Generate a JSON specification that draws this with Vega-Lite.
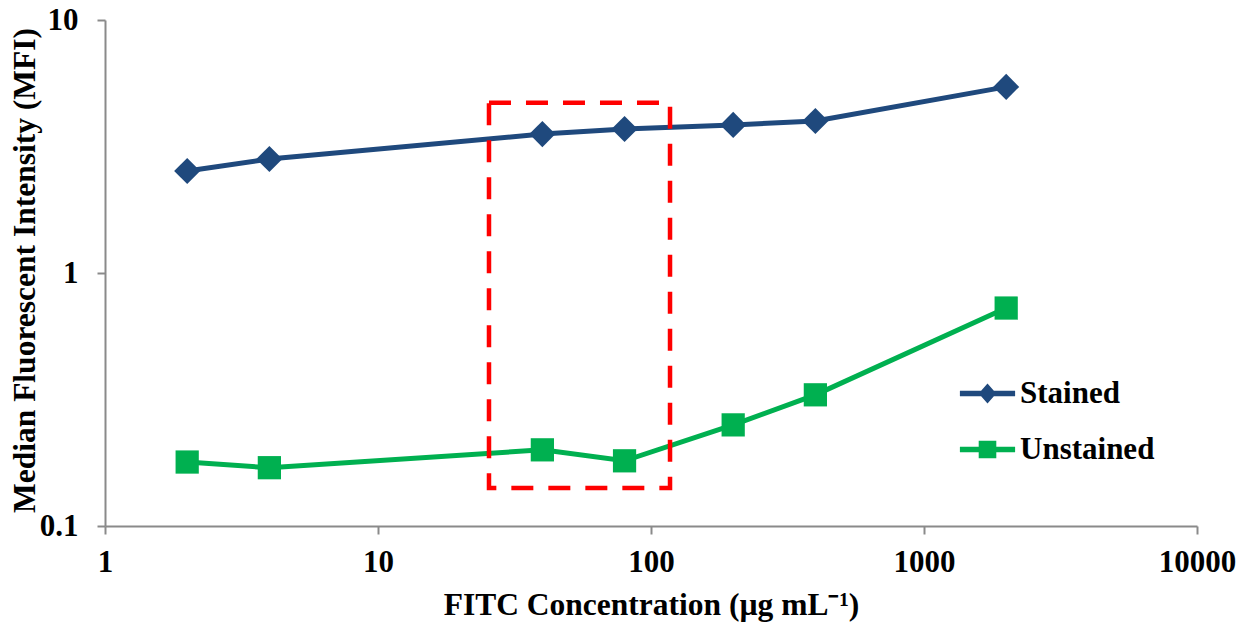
{
  "$schema": "https://vega.github.io/schema/vega-lite/v6.json",
  "width": 1092,
  "height": 506,
  "autosize": {"type": "none"},
  "padding": {"left": 105, "top": 20, "right": 49, "bottom": 102},
  "background": "white",
  "config": {
    "view": {"stroke": null},
    "font": "Liberation Serif",
    "axis": {
      "domainColor": "#8a8a8a",
      "domainWidth": 2,
      "tickColor": "#8a8a8a",
      "tickWidth": 2,
      "tickSize": 8,
      "grid": false,
      "labelFlush": false,
      "labelOverlap": false,
      "labelFont": "Liberation Serif",
      "labelFontWeight": "bold",
      "labelFontSize": 31,
      "labelColor": "#000000",
      "titleFont": "Liberation Serif",
      "titleFontWeight": "bold",
      "titleFontSize": 31.5,
      "titleColor": "#000000"
    },
    "legend": {
      "labelFont": "Liberation Serif",
      "labelFontWeight": "bold",
      "labelFontSize": 31,
      "labelColor": "#000000"
    }
  },
  "datasets": {
    "mfi": [
      {"conc": 2, "mfi": 2.53, "series": "Stained"},
      {"conc": 4, "mfi": 2.82, "series": "Stained"},
      {"conc": 40, "mfi": 3.54, "series": "Stained"},
      {"conc": 80, "mfi": 3.71, "series": "Stained"},
      {"conc": 200, "mfi": 3.85, "series": "Stained"},
      {"conc": 400, "mfi": 3.99, "series": "Stained"},
      {"conc": 2000, "mfi": 5.44, "series": "Stained"},
      {"conc": 2, "mfi": 0.179, "series": "Unstained"},
      {"conc": 4, "mfi": 0.170, "series": "Unstained"},
      {"conc": 40, "mfi": 0.200, "series": "Unstained"},
      {"conc": 80, "mfi": 0.181, "series": "Unstained"},
      {"conc": 200, "mfi": 0.251, "series": "Unstained"},
      {"conc": 400, "mfi": 0.330, "series": "Unstained"},
      {"conc": 2000, "mfi": 0.727, "series": "Unstained"}
    ],
    "highlight": [
      {"conc_lo": 25.5, "conc_hi": 117.4, "mfi_lo": 0.1413, "mfi_hi": 4.71}
    ]
  },
  "layer": [
    {
      "data": {"name": "mfi"},
      "mark": {"type": "line", "strokeWidth": 5},
      "encoding": {
        "x": {
          "field": "conc", "type": "quantitative",
          "scale": {"type": "log", "domain": [1, 10000], "nice": false},
          "axis": {
            "values": [1, 10, 100, 1000, 10000],
            "labelExpr": "format(datum.value, 'd')",
            "labelPadding": 13,
            "title": "FITC Concentration (µg mL⁻¹)",
            "titleY": 88,
            "titleBaseline": "alphabetic"
          }
        },
        "y": {
          "field": "mfi", "type": "quantitative",
          "scale": {"type": "log", "domain": [0.1, 10], "nice": false},
          "axis": {
            "values": [0.1, 1, 10],
            "labelExpr": "datum.value == 0.1 ? '0.1' : format(datum.value, 'd')",
            "labelPadding": 19,
            "title": "Median Fluorescent Intensity (MFI)",
            "titleX": -80,
            "titleY": 250,
            "titleBaseline": "middle"
          }
        },
        "color": {
          "field": "series", "type": "nominal",
          "scale": {"domain": ["Stained", "Unstained"], "range": ["#1F497D", "#00B050"]},
          "legend": {
            "title": null,
            "orient": "none",
            "legendX": 867,
            "legendY": 358,
            "padding": 0,
            "symbolSize": 256,
            "symbolOpacity": 1,
            "symbolStrokeWidth": 0,
            "labelOffset": 17,
            "rowPadding": 24,
            "encode": {
              "symbols": {
                "update": {
                  "shape": {"signal": "datum.value === 'Stained' ? 'M-3.45,-0.35H3.45V0.35H-3.45Z M0,-1.25L1.1,0L0,1.25L-1.1,0Z' : 'M-3.45,-0.35H3.45V0.35H-3.45Z M-1.1,-1.1H1.1V1.1H-1.1Z'"},
                  "fill": {"signal": "datum.value === 'Stained' ? '#1F497D' : '#00B050'"},
                  "strokeWidth": {"value": 0}
                }
              }
            }
          }
        }
      }
    },
    {
      "data": {"name": "mfi"},
      "transform": [{"filter": "datum.series === 'Stained'"}],
      "mark": {"type": "point", "filled": true, "opacity": 1, "shape": "diamond", "size": 680},
      "encoding": {
        "x": {"field": "conc", "type": "quantitative"},
        "y": {"field": "mfi", "type": "quantitative"},
        "color": {"field": "series", "type": "nominal"}
      }
    },
    {
      "data": {"name": "mfi"},
      "transform": [{"filter": "datum.series === 'Unstained'"}],
      "mark": {"type": "point", "filled": true, "opacity": 1, "shape": "square", "size": 540},
      "encoding": {
        "x": {"field": "conc", "type": "quantitative"},
        "y": {"field": "mfi", "type": "quantitative"},
        "color": {"field": "series", "type": "nominal"}
      }
    },
    {
      "data": {"name": "highlight"},
      "mark": {
        "type": "rect",
        "filled": false,
        "fill": null,
        "stroke": "#FF0000",
        "strokeWidth": 4.5,
        "strokeDash": [22, 15]
      },
      "encoding": {
        "x": {"field": "conc_lo", "type": "quantitative"},
        "x2": {"field": "conc_hi"},
        "y": {"field": "mfi_lo", "type": "quantitative"},
        "y2": {"field": "mfi_hi"}
      }
    }
  ]
}
